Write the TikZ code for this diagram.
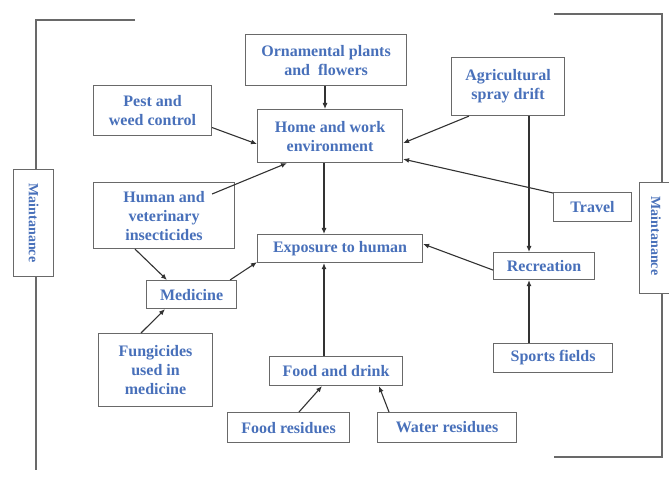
\documentclass[tikz,border=0pt]{standalone}
\usepackage{fontspec}
\setmainfont{Liberation Serif}
\usetikzlibrary{arrows.meta}
\definecolor{txtblue}{RGB}{72,112,186}
\definecolor{boxgray}{RGB}{105,105,105}
\definecolor{arrgray}{RGB}{50,50,50}
\tikzset{
  box/.style={draw=boxgray, line width=1.1pt, fill=white, text=txtblue,
    font=\fontsize{16}{19}\selectfont\bfseries, align=center,
    inner sep=0pt, anchor=north west},
  side/.style={draw=boxgray, line width=1.1pt, fill=white, inner sep=0pt, anchor=north west},
  sidetext/.style={text=txtblue, font=\fontsize{14}{16}\selectfont\bfseries, rotate=-90},
  link/.style={draw=arrgray, line width=1.1pt, -{Latex[length=6pt,width=5pt]}},
  brace/.style={draw=boxgray, line width=1.1pt}
}
\begin{document}
\begin{tikzpicture}[x=1pt,y=-1pt]
\useasboundingbox (0,0) rectangle (669,478);
\clip (0,0) rectangle (669,478);

% left bracket
\coordinate (lt1) at (135,20);
\coordinate (lt2) at (36,20);
\coordinate (lb) at (36,470);
\draw[brace] (lt1) -- (lt2) -- (lb);
% right bracket
\coordinate (rt1) at (554,14);
\coordinate (rt2) at (662,14);
\coordinate (rb2) at (662,457);
\coordinate (rb1) at (554,457);
\draw[brace] (rt1) -- (rt2) -- (rb2) -- (rb1);

% side labels
\node[side, minimum width=40pt, minimum height=107pt] (mL) at (13,169) {};
\node[sidetext] (mLt) at (mL.center) {Maintanance};
\node[side, minimum width=42pt, minimum height=111pt] (mR) at (639,182) {};
\node[sidetext] (mRt) at (656,236) {Maintanance};

% boxes
\node[box, minimum width=161pt, minimum height=51pt] (orn) at (245,34) {Ornamental plants\\and\ \ flowers};
\node[box, minimum width=118pt, minimum height=50pt] (pest) at (93,85) {Pest and\\weed control};
\node[box, minimum width=145pt, minimum height=53pt] (home) at (257,109) {Home and work\\environment};
\node[box, minimum width=113pt, minimum height=58pt] (agri) at (451,57) {Agricultural\\spray drift};
\node[box, minimum width=78pt, minimum height=29pt] (travel) at (553,192) {Travel};
\node[box, minimum width=141pt, minimum height=66pt] (insect) at (93,182) {Human and\\veterinary\\insecticides};
\node[box, minimum width=165pt, minimum height=28pt] (expo) at (257,234) {Exposure to human};
\node[box, minimum width=101pt, minimum height=27pt] (recr) at (493,252) {Recreation};
\node[box, minimum width=90pt, minimum height=28pt] (med) at (146,280) {Medicine};
\node[box, minimum width=114pt, minimum height=73pt] (fung) at (98,333) {Fungicides\\used in\\medicine};
\node[box, minimum width=119pt, minimum height=29pt] (sport) at (493,343) {Sports fields};
\node[box, minimum width=133pt, minimum height=29pt] (food) at (269,356) {Food and drink};
\node[box, minimum width=122pt, minimum height=30pt] (fres) at (227,412) {Food residues};
\node[box, minimum width=139pt, minimum height=30pt] (wres) at (377,412) {Water residues};

% connectors
\draw[link] (orn.south -| 325,0) -- (home.north -| 325,0);
\draw[link] ([yshift=-17pt]pest.east) -- ([yshift=-8pt]home.west);
\draw[link] ([xshift=-23pt,yshift=-12pt]insect.north east) -- ([xshift=30pt]home.south west);
\draw[link] (home.south -| 324,0) -- (expo.north -| 324,0);
\draw[link] ([xshift=18pt]agri.south west) -- ([yshift=20pt]home.south east);
\draw[link] ([yshift=-1pt]travel.north west) -- ([yshift=4pt]home.south east);
\draw[link] (agri.south -| 529,0) -- (recr.north -| 529,0);
\draw[link] (sport.north -| 529,0) -- (recr.south -| 529,0);
\draw[link] ([yshift=-4pt]recr.west) -- ([yshift=-10pt]expo.north east);
\draw[link] ([xshift=42pt]insect.south west) -- ([xshift=21pt]med.north west);
\draw[link] ([xshift=-7pt]med.north east) -- ([yshift=1pt]expo.south west);
\draw[link] ([xshift=43pt]fung.north west) -- ([xshift=19pt]med.south west);
\draw[link] (food.north -| 324,0) -- (expo.south -| 324,0);
\draw[link] ([xshift=72pt]fres.north west) -- ([xshift=53pt]food.south west);
\draw[link] ([xshift=12pt]wres.north west) -- ([xshift=110pt]food.south west);
\end{tikzpicture}
\end{document}
